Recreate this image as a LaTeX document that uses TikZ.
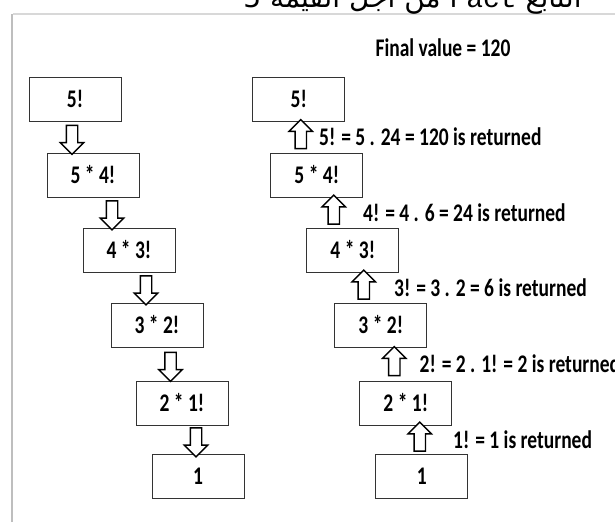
\documentclass[tikz,border=0pt]{standalone}
\usepackage{fontspec}
\usepackage{graphicx}
\usetikzlibrary{shapes,arrows,positioning,calc}
\setmainfont{Carlito}
\newfontfamily\arabicfont[Script=Arabic]{DejaVu Sans}
\newfontfamily\codefont{Liberation Mono}
\TeXXeTstate=1
\newcommand{\tallt}[1]{\scalebox{1}[1.3]{#1}}
\definecolor{framegray}{RGB}{190,190,190}

\begin{document}
\begin{tikzpicture}[x=1pt, y=-1pt, thick,
        block/.style={rectangle, draw=black!80, line width=0.8pt, minimum width=92pt, minimum height=44pt, inner sep=0pt, font=\fontsize{19.5}{20}\selectfont\bfseries},
        hollowarr/.style={single arrow, draw, fill=white, line width=1.4pt, inner sep=5pt, minimum height=29pt, single arrow head extend=6pt},
        uparr/.style={hollowarr, rotate=90},
        downarr/.style={hollowarr, rotate=-90},
        ret/.style={anchor=west, inner sep=0pt, font=\fontsize{19.5}{20}\selectfont\bfseries}]

        \useasboundingbox (0,0) rectangle (615,522);
        \clip (0,0) rectangle (615,522);

        % frame of the slide
        \draw [framegray!60, line width=1.2pt] (13,14) -- (615,14);
        \draw [framegray, line width=2.5pt] (12,522) -- (12,14);

        \node [anchor=base east, inner sep=0pt, font=\fontsize{28}{30}\selectfont] (title) at (582,8)
            {\arabicfont\beginR التابع {\codefont\beginL Fact\endL} من أجل القيمة 5\endR};

        % calls
        \node [block] (l1) at (75,99) {\tallt{5!}};
        \node [block] (l2) at (93,175) {\tallt{5 * 4!}};
        \node [block] (l3) at (129,250) {\tallt{4 * 3!}};
        \node [block] (l4) at (157,325) {\tallt{3 * 2!}};
        \node [block] (l5) at (182,403) {\tallt{2 * 1!}};
        \node [block] (l6) at (198,476) {\tallt{1}};

        \node [downarr] (da1) at ($(l1.south)!.5!(l2.north) + (-12,0)$) {};
        \node [downarr] (da2) at ($(l2.south)!.5!(l3.north) + (1,0)$) {};
        \node [downarr] (da3) at ($(l3.south)!.5!(l4.north) + (3,0)$) {};
        \node [downarr] (da4) at ($(l4.south)!.5!(l5.north) + (1,0)$) {};
        \node [downarr] (da5) at ($(l5.south)!.5!(l6.north) + (6,0)$) {};

        % returns
        \node [ret, anchor=center] (final) at (443,48) {\tallt{Final value = 120}};

        \node [block, right=131pt of l1] (r1) {\tallt{5!}};
        \node [block, right=131pt of l2] (r2) {\tallt{5 * 4!}};
        \node [block, right=131pt of l3] (r3) {\tallt{4 * 3!}};
        \node [block, right=131pt of l4] (r4) {\tallt{3 * 2!}};
        \node [block, right=131pt of l5] (r5) {\tallt{2 * 1!}};
        \node [block, right=131pt of l6] (r6) {\tallt{1}};

        \node [uparr] (ua1) at ($(r1.south)!.5!(r2.north) + (-7,0)$) {};
        \node [uparr] (ua2) at ($(r2.south)!.5!(r3.north) + (-1,0)$) {};
        \node [uparr] (ua3) at ($(r3.south)!.5!(r4.north) + (-3,0)$) {};
        \node [uparr] (ua4) at ($(r4.south)!.5!(r5.north) + (1,0)$) {};
        \node [uparr] (ua5) at ($(r5.south)!.5!(r6.north) + (6,0)$) {};

        \node [ret] (t1) at ($(ua1.center) + (18,0)$) {\tallt{5! = 5 . 24 = 120 is returned}};
        \node [ret] (t2) at ($(ua2.center) + (29,0)$) {\tallt{4! = 4 . 6 = 24 is returned}};
        \node [ret] (t3) at ($(ua3.center) + (30,0)$) {\tallt{3! = 3 . 2 = 6 is returned}};
        \node [ret] (t4) at ($(ua4.center) + (25,0)$) {\tallt{2! = 2 . 1! = 2 is returned}};
        \node [ret] (t5) at ($(ua5.center) + (33,0)$) {\tallt{1! = 1 is returned}};
    \end{tikzpicture}
\end{document}
